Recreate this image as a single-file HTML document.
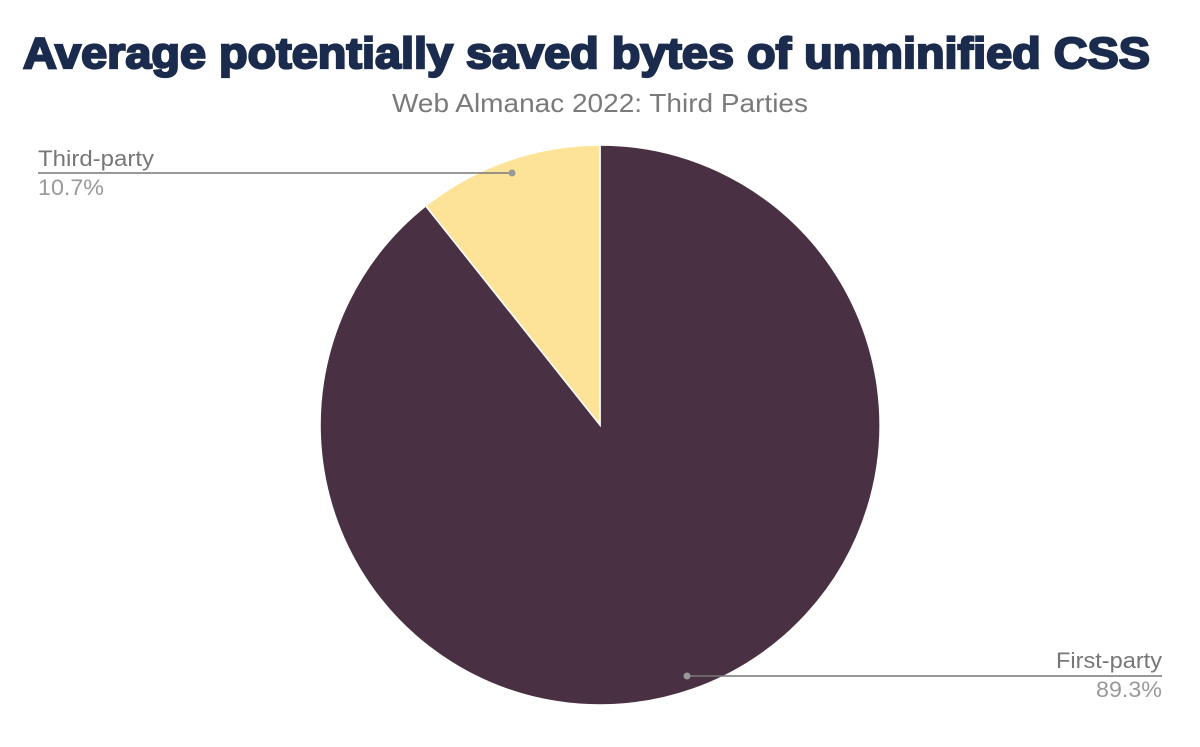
<!DOCTYPE html>
<html><head><style>
body{margin:0;background:#fff;width:1200px;height:742px;overflow:hidden}
</style></head><body>
<svg width="1200" height="742" xmlns="http://www.w3.org/2000/svg">
<text x="23" y="68" textLength="1127" lengthAdjust="spacingAndGlyphs" font-family="Liberation Sans, sans-serif" font-weight="900" font-size="44" fill="#1a2b4d" stroke="#1a2b4d" stroke-width="2.2">Average potentially saved bytes of unminified CSS</text>
<text x="392" y="112" textLength="416" lengthAdjust="spacingAndGlyphs" font-family="Liberation Sans, sans-serif" font-size="26" fill="#7a7a7a">Web Almanac 2022: Third Parties</text>
<path d="M600,425 L600,145 A280,280 0 1 1 425.7,205.9 Z" fill="#4a3043" stroke="#fff" stroke-width="1.5"/>
<path d="M600,425 L425.7,205.9 A280,280 0 0 1 600,145 Z" fill="#fde398" stroke="#fff" stroke-width="1.5"/>
<line x1="38" y1="173" x2="512" y2="173" stroke="#777" stroke-width="1.5"/>
<circle cx="512" cy="173" r="3.5" fill="#999"/>
<text x="38" y="166" textLength="116" lengthAdjust="spacingAndGlyphs" font-family="Liberation Sans, sans-serif" font-size="22" fill="#777">Third-party</text>
<text x="38" y="195" textLength="66" lengthAdjust="spacingAndGlyphs" font-family="Liberation Sans, sans-serif" font-size="22" fill="#999">10.7%</text>
<line x1="687" y1="676" x2="1162" y2="676" stroke="#777" stroke-width="1.5"/>
<circle cx="687" cy="676" r="3.5" fill="#999"/>
<text x="1056" y="668" textLength="106" lengthAdjust="spacingAndGlyphs" font-family="Liberation Sans, sans-serif" font-size="22" fill="#777">First-party</text>
<text x="1096" y="697" textLength="66" lengthAdjust="spacingAndGlyphs" font-family="Liberation Sans, sans-serif" font-size="22" fill="#999">89.3%</text>
</svg>
</body></html>
